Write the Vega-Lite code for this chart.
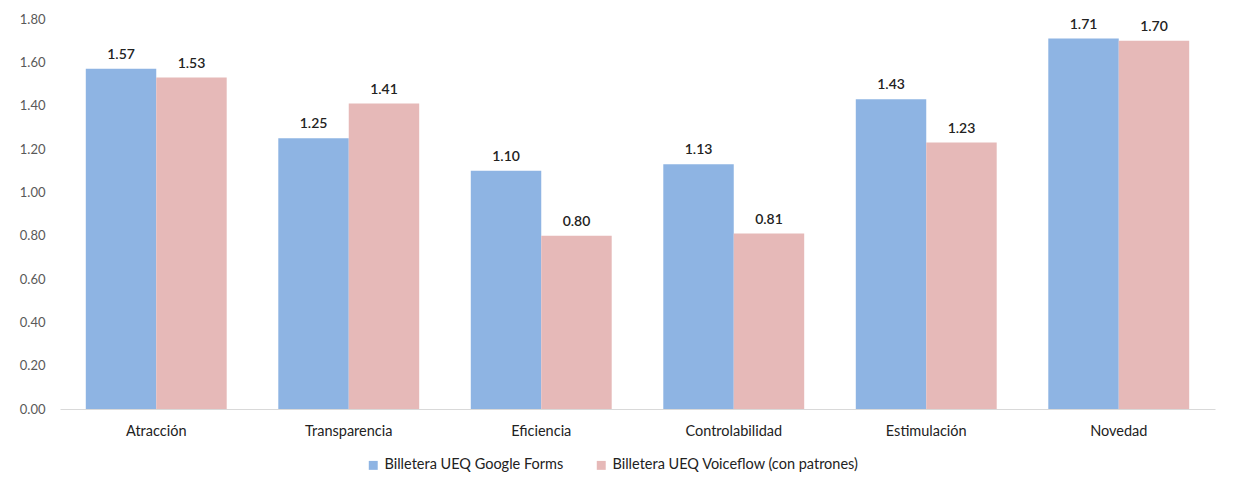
{
  "$schema": "https://vega.github.io/schema/vega-lite/v6.json",
  "width": 1155,
  "height": 390,
  "autosize": "none",
  "padding": {"left": 60, "top": 19, "right": 20, "bottom": 77},
  "background": "#ffffff",
  "config": {
    "font": "Lato",
    "view": {"stroke": null}
  },
  "data": {
    "values": [
      {"dimension": "Atracción", "serie": "Billetera UEQ Google Forms", "valor": 1.57},
      {"dimension": "Atracción", "serie": "Billetera UEQ Voiceflow (con patrones)", "valor": 1.53},
      {"dimension": "Transparencia", "serie": "Billetera UEQ Google Forms", "valor": 1.25},
      {"dimension": "Transparencia", "serie": "Billetera UEQ Voiceflow (con patrones)", "valor": 1.41},
      {"dimension": "Eficiencia", "serie": "Billetera UEQ Google Forms", "valor": 1.10},
      {"dimension": "Eficiencia", "serie": "Billetera UEQ Voiceflow (con patrones)", "valor": 0.80},
      {"dimension": "Controlabilidad", "serie": "Billetera UEQ Google Forms", "valor": 1.13},
      {"dimension": "Controlabilidad", "serie": "Billetera UEQ Voiceflow (con patrones)", "valor": 0.81},
      {"dimension": "Estimulación", "serie": "Billetera UEQ Google Forms", "valor": 1.43},
      {"dimension": "Estimulación", "serie": "Billetera UEQ Voiceflow (con patrones)", "valor": 1.23},
      {"dimension": "Novedad", "serie": "Billetera UEQ Google Forms", "valor": 1.71},
      {"dimension": "Novedad", "serie": "Billetera UEQ Voiceflow (con patrones)", "valor": 1.70}
    ]
  },
  "encoding": {
    "x": {
      "field": "dimension",
      "type": "nominal",
      "sort": null,
      "scale": {"paddingInner": 0.268, "paddingOuter": 0.134},
      "axis": {
        "title": null,
        "labelAngle": 0,
        "ticks": false,
        "domainColor": "#D9D9D9",
        "domainWidth": 1,
        "labelFontSize": 14.5,
        "labelColor": "#222222",
        "labelPadding": 15
      }
    },
    "xOffset": {
      "field": "serie",
      "type": "nominal",
      "sort": ["Billetera UEQ Google Forms", "Billetera UEQ Voiceflow (con patrones)"]
    },
    "y": {
      "field": "valor",
      "type": "quantitative",
      "scale": {"domain": [0, 1.8], "nice": false},
      "axis": {
        "title": null,
        "values": [0, 0.2, 0.4, 0.6, 0.8, 1.0, 1.2, 1.4, 1.6, 1.8],
        "format": ".2f",
        "grid": false,
        "ticks": false,
        "domain": false,
        "labelFontSize": 13,
        "labelColor": "#595959",
        "labelPadding": 15
      }
    }
  },
  "layer": [
    {
      "mark": {"type": "bar"},
      "encoding": {
        "color": {
          "field": "serie",
          "type": "nominal",
          "sort": ["Billetera UEQ Google Forms", "Billetera UEQ Voiceflow (con patrones)"],
          "scale": {"range": ["#8EB4E3", "#E6B9B8"]},
          "legend": {
            "title": null,
            "orient": "none",
            "legendX": 306,
            "legendY": 439,
            "direction": "horizontal",
            "symbolType": "square",
            "symbolSize": 80,
            "symbolStrokeWidth": 0,
            "labelFontSize": 14.5,
            "labelLimit": 400,
            "labelColor": "#222222",
            "columnPadding": 30
          }
        }
      }
    },
    {
      "mark": {"type": "text", "dy": -14, "baseline": "middle", "fontSize": 14, "fontWeight": 600, "color": "#222222"},
      "encoding": {
        "text": {"field": "valor", "type": "quantitative", "format": ".2f"}
      }
    }
  ]
}
